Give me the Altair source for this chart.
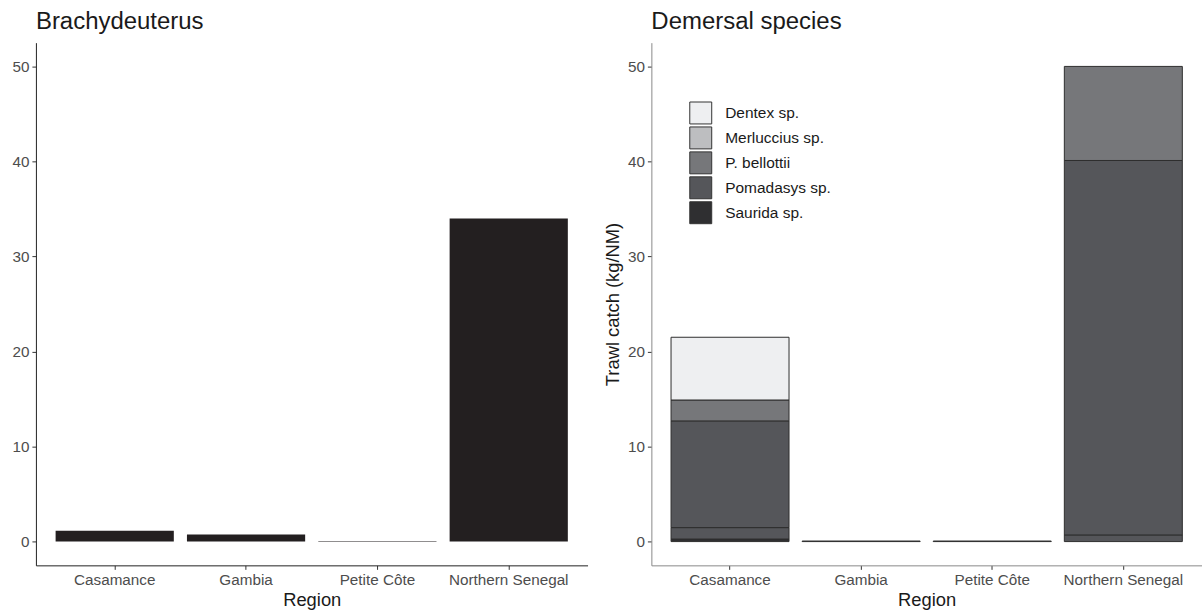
import altair as alt
import pandas as pd

# ---------------- data ----------------
regions = ["Casamance", "Gambia", "Petite Côte", "Northern Senegal"]
brachy_catch = [1.15, 0.75, 0.05, 34.0]

species = ["Dentex sp.", "Merluccius sp.", "P. bellottii", "Pomadasys sp.", "Saurida sp."]
species_colors = ["#eeeff1", "#bdbec0", "#76777a", "#55565a", "#2f2f31"]

# stacked segments, listed bottom to top within each region
dem_region = ["Casamance", "Casamance", "Casamance", "Casamance", "Casamance",
              "Gambia", "Petite Côte",
              "Northern Senegal", "Northern Senegal", "Northern Senegal"]
dem_species = ["Saurida sp.", "Pomadasys sp.", "Pomadasys sp.", "P. bellottii", "Dentex sp.",
               "Pomadasys sp.", "Pomadasys sp.",
               "Pomadasys sp.", "Pomadasys sp.", "P. bellottii"]
dem_catch = [0.27, 1.2, 11.23, 2.2, 6.6,
             0.06, 0.06,
             0.7, 39.4, 9.9]

y_ticks = [0, 10, 20, 30, 40, 50]
y_domain = [-2.5, 52.5]

FONT = "Liberation Sans"
TICK_LABEL = "#4d4d4d"
TEXT = "#1a1a1a"

left_df = pd.DataFrame({"Region": regions, "catch": brachy_catch})
right_df = pd.DataFrame({"Region": dem_region, "Species": dem_species, "catch": dem_catch})
right_df["ord"] = list(range(len(right_df)))

x_scale = alt.Scale(domain=regions, paddingInner=0.1, paddingOuter=0.15)
y_scale = alt.Scale(domain=y_domain, nice=False, zero=False)


def x_axis(line_color):
    return alt.Axis(title="Region", labelAngle=0, labelFont=FONT, labelFontSize=15.3,
                    labelColor=TICK_LABEL, titleFont=FONT, titleFontSize=18.4,
                    titleFontWeight="normal", titleColor=TEXT, domainColor=line_color,
                    domainWidth=1, tickColor="#333333", tickSize=4, labelPadding=3,
                    titlePadding=3, grid=False)


def y_axis(title, line_color):
    kw = dict(values=y_ticks, labelFont=FONT, labelFontSize=15.3, labelColor=TICK_LABEL,
              domainColor=line_color, domainWidth=1, tickColor="#333333", tickSize=4,
              labelPadding=3, grid=False)
    if title:
        kw.update(title=title, titleFont=FONT, titleFontSize=18.4, titleFontWeight="normal",
                  titleColor=TEXT, titlePadding=5)
    else:
        kw.update(title=None)
    return alt.Axis(**kw)


def panel_title(text):
    return alt.TitleParams(text=text, anchor="start", frame="group", fontSize=24,
                           fontWeight="normal", font=FONT, color=TEXT, offset=9)


left = alt.Chart(left_df, title=panel_title("Brachydeuterus")).mark_bar(color="#231f20").encode(
    x=alt.X("Region:N", scale=x_scale, sort=regions, axis=x_axis("#222222")),
    y=alt.Y("catch:Q", scale=y_scale, axis=y_axis(None, "#222222")),
).properties(width=553, height=524)

right = alt.Chart(right_df, title=panel_title("Demersal species")).mark_bar(
    stroke="#2e2e2e", strokeWidth=1
).encode(
    x=alt.X("Region:N", scale=x_scale, sort=regions, axis=x_axis("#8a8a8a")),
    y=alt.Y("sum(catch):Q", scale=y_scale, stack="zero",
            axis=y_axis("Trawl catch (kg/NM)", "#8a8a8a")),
    color=alt.Color("Species:N", scale=alt.Scale(domain=species, range=species_colors),
                    legend=alt.Legend(title=None, orient="none", legendX=655, legendY=59,
                                      symbolType="square", symbolSize=484,
                                      symbolStrokeColor="#333333", symbolStrokeWidth=1,
                                      symbolOpacity=1, labelFont=FONT, labelFontSize=15.5,
                                      labelColor=TEXT, labelOffset=13, rowPadding=-3.6,
                                      padding=0)),
    order=alt.Order("ord:Q", sort="ascending"),
    detail="ord:Q",
).properties(width=552, height=524)

chart = alt.hconcat(left, right, spacing=15).properties(
    padding={"left": 11, "top": 9, "right": 0, "bottom": 0},
    background="white",
).configure_view(stroke=None)

chart.save("out.html", embed_options={"renderer": "svg", "actions": False})
